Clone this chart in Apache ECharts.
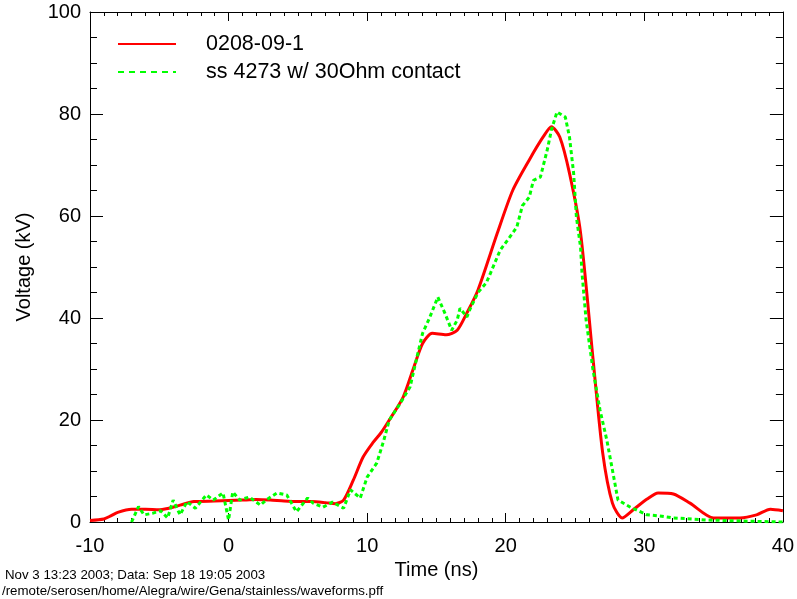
<!DOCTYPE html>
<html>
<head>
<meta charset="utf-8">
<script src="https://cdn.jsdelivr.net/npm/echarts@6/dist/echarts.min.js"></script>
<style>html,body{margin:0;padding:0;background:#fff}#c{width:797px;height:599px}</style>
</head>
<body>
<div id="c"></div>
<script>
// ---- data ----
var redTime = [-10,-9,-8.5,-8,-7,-6,-5,-4.5,-3.5,-2.5,-1,0,1,2,3,4,5,6,7,7.7,8.3,9.0,9.7,10.4,11.0,11.6,12.6,13.3,14.0,14.7,15.7,16.5,17.2,18.0,19.4,20.5,21.7,22.7,23.3,23.9,24.6,25.4,26.3,27.0,27.7,28.4,29.2,30.2,31.0,32.1,33.3,35.0,36.9,38.1,39.1,40];
var redVolt = [0.3,0.6,1.2,1.9,2.5,2.5,2.4,2.6,3.3,4.0,4.1,4.2,4.3,4.4,4.3,4.1,4.0,4.0,3.8,3.6,4.3,8.2,12.7,15.5,17.5,20,24.5,29.8,35,37,36.7,37.6,41,45.5,56.7,65,71,75.5,77.5,75.5,68.4,56.7,32,13.5,3.7,0.8,2.4,4.5,5.7,5.5,3.7,0.8,0.8,1.4,2.5,2.2];

var greenTime = [-7.0,-6.5,-6.1,-5.5,-4.9,-4.4,-4.0,-3.5,-3.0,-2.4,-1.6,-1.1,-0.4,0,0.3,0.8,1.5,2.3,2.7,3.5,4.2,4.9,5.7,6.1,6.8,7.5,8.3,8.8,9.5,10.0,10.7,11.2,11.6,12.4,13.1,13.6,14.0,14.5,15.1,15.6,16.1,16.5,16.7,17.2,17.4,18.0,18.6,18.9,19.6,20.3,20.8,21.2,21.7,22.0,22.5,23.0,23.3,23.7,24.3,24.6,24.9,25.1,25.4,25.5,25.8,26.3,26.8,27.3,27.7,28.1,29.0,30.2,31.1,32.1,34.5,37,40];
var greenVolt = [0,3,1.4,1.7,2.2,0.8,4.3,1.4,4,2.7,5.3,4.3,5.7,0.4,5.9,4.3,4.9,3.3,4.3,5.7,5.3,2,4.7,3.7,2.9,3.9,2.7,6.3,4.7,8.8,11.6,16,20,23.3,26.5,32.4,37,40,44.1,41,37.6,39.6,41.9,40.2,41.6,45,46.9,48.8,53.3,55.9,57.8,62,63.7,67,67.6,73,76.9,80.4,79.4,75.5,68.4,59.8,53.9,49,39.6,29.8,22,16,10.2,4.3,2.9,1.4,1.2,0.8,0.4,0.2,0];

var seriesNames = ['0208-09-1', 'ss 4273 w/ 30Ohm contact'];
var xTitle = 'Time (ns)';
var yTitle = 'Voltage (kV)';
var footer1 = 'Nov 3 13:23 2003; Data: Sep 18 19:05 2003';
var footer2 = '/remote/serosen/home/Alegra/wire/Gena/stainless/waveforms.pff';

function pairs(xs, ys){ return xs.map(function(x,i){ return [x, ys[i]]; }); }

var FONT = '"Liberation Sans", Arial, Helvetica, sans-serif';
var chart = echarts.init(document.getElementById('c'), null, {renderer:'canvas'});

function xAx(pos, showLabel){
  return {
    type:'value', position:pos, min:-10, max:40, interval:10,
    name: showLabel ? xTitle : '', nameLocation:'middle', nameGap:36,
    nameTextStyle:{fontFamily:FONT, fontSize:20, color:'#000'},
    axisLine:{show:true, onZero:false, lineStyle:{color:'#000', width:1}},
    axisTick:{show:true, inside:true, length:9, lineStyle:{color:'#000', width:1}},
    minorTick:{show:true, splitNumber:10, length:4, lineStyle:{color:'#000', width:1}},
    axisLabel:{show:showLabel, margin:14, fontFamily:FONT, fontSize:20, color:'#000'},
    splitLine:{show:false}
  };
}
function yAx(pos, showLabel){
  return {
    type:'value', position:pos, min:0, max:100, interval:20,
    name: showLabel ? yTitle : '', nameLocation:'middle', nameGap:56,
    nameTextStyle:{fontFamily:FONT, fontSize:20, color:'#000'},
    axisLine:{show:true, onZero:false, lineStyle:{color:'#000', width:1}},
    axisTick:{show:true, inside:true, length:13, lineStyle:{color:'#000', width:1}},
    minorTick:{show:true, splitNumber:4, length:7, lineStyle:{color:'#000', width:1}},
    axisLabel:{show:showLabel, margin:9, fontFamily:FONT, fontSize:20, color:'#000'},
    splitLine:{show:false}
  };
}

chart.setOption({
  animation:false,
  backgroundColor:'#fff',
  grid:{left:90, right:14, top:12, bottom:77, containLabel:false},
  xAxis:[xAx('bottom', true), xAx('top', false)],
  yAxis:[yAx('left', true), yAx('right', false)],
  legend:{
    orient:'vertical', left:117, top:33, padding:0, itemWidth:58, itemHeight:14, itemGap:6,
    itemStyle:{opacity:0},
    textStyle:{fontFamily:FONT, fontSize:21.5, color:'#000', padding:[0,0,0,25], lineHeight:21},
    data:[
      {name:seriesNames[0], lineStyle:{width:2}},
      {name:seriesNames[1], lineStyle:{width:2, type:[6,5]}}
    ]
  },
  series:[
    {name:seriesNames[0], type:'line', xAxisIndex:0, yAxisIndex:0, data:pairs(redTime, redVolt),
     smooth:0.25, symbol:'none', showSymbol:false,
     lineStyle:{color:'#ff0000', width:3}, itemStyle:{color:'#ff0000'}, z:2},
    {name:seriesNames[1], type:'line', xAxisIndex:0, yAxisIndex:0, data:pairs(greenTime, greenVolt),
     smooth:false, symbol:'none', showSymbol:false,
     lineStyle:{color:'#00ff00', width:3, type:[4,3]}, itemStyle:{color:'#00ff00'}, z:3}
  ],
  graphic:[
    {type:'text', left:5, top:569, style:{text:footer1, font:'13.3px '+FONT, fill:'#000'}},
    {type:'text', left:2, top:585, style:{text:footer2, font:'13.3px '+FONT, fill:'#000'}}
  ]
});
</script>
</body>
</html>
